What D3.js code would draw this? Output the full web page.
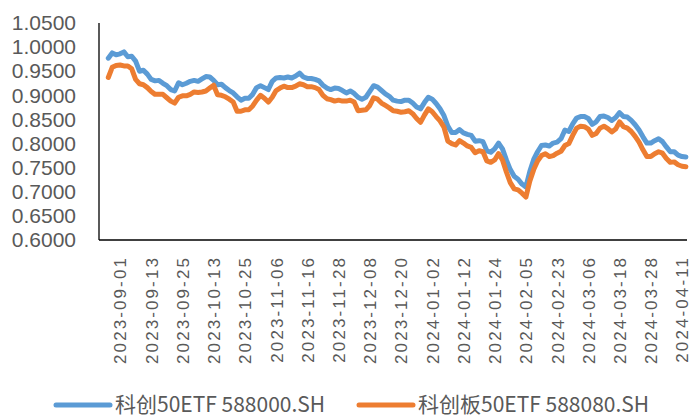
<!DOCTYPE html>
<html>
<head>
<meta charset="utf-8">
<script src="https://cdn.jsdelivr.net/npm/d3@7"></script>
<style>
  body { margin: 0; background: #fff; }
  text { font-family: "Liberation Sans", Arial, sans-serif; fill: #595959; }
</style>
</head>
<body>
<script>

// trading days shown on the category axis
var dates = [
  "2023-08-29","2023-08-30","2023-08-31",
  "2023-09-01","2023-09-04","2023-09-05","2023-09-06","2023-09-07","2023-09-08","2023-09-11","2023-09-12","2023-09-13","2023-09-14",
  "2023-09-15","2023-09-18","2023-09-19","2023-09-20","2023-09-21","2023-09-22","2023-09-25","2023-09-26","2023-09-27","2023-09-28",
  "2023-10-09","2023-10-10","2023-10-11","2023-10-12","2023-10-13","2023-10-16","2023-10-17","2023-10-18","2023-10-19","2023-10-20",
  "2023-10-23","2023-10-24","2023-10-25","2023-10-26","2023-10-27","2023-10-30","2023-10-31",
  "2023-11-01","2023-11-02","2023-11-03","2023-11-06","2023-11-07","2023-11-08","2023-11-09","2023-11-10","2023-11-13","2023-11-14",
  "2023-11-15","2023-11-16","2023-11-17","2023-11-20","2023-11-21","2023-11-22","2023-11-23","2023-11-24","2023-11-27","2023-11-28",
  "2023-11-29","2023-11-30",
  "2023-12-01","2023-12-04","2023-12-05","2023-12-06","2023-12-07","2023-12-08","2023-12-11","2023-12-12","2023-12-13","2023-12-14",
  "2023-12-15","2023-12-18","2023-12-19","2023-12-20","2023-12-21","2023-12-22","2023-12-25","2023-12-26","2023-12-27","2023-12-28",
  "2023-12-29",
  "2024-01-02","2024-01-03","2024-01-04","2024-01-05","2024-01-08","2024-01-09","2024-01-10","2024-01-11","2024-01-12","2024-01-15",
  "2024-01-16","2024-01-17","2024-01-18","2024-01-19","2024-01-22","2024-01-23","2024-01-24","2024-01-25","2024-01-26","2024-01-29",
  "2024-01-30","2024-01-31",
  "2024-02-01","2024-02-02","2024-02-05","2024-02-06","2024-02-07","2024-02-08","2024-02-19","2024-02-20","2024-02-21","2024-02-22",
  "2024-02-23","2024-02-26","2024-02-27","2024-02-28","2024-02-29",
  "2024-03-01","2024-03-04","2024-03-05","2024-03-06","2024-03-07","2024-03-08","2024-03-11","2024-03-12","2024-03-13","2024-03-14",
  "2024-03-15","2024-03-18","2024-03-19","2024-03-20","2024-03-21","2024-03-22","2024-03-25","2024-03-26","2024-03-27","2024-03-28",
  "2024-03-29",
  "2024-04-01","2024-04-02","2024-04-03","2024-04-08","2024-04-09","2024-04-10","2024-04-11","2024-04-12"
];

// 科创50ETF 588000.SH
var kc50 = [
  0.977,0.988,0.984,0.986,0.990,0.980,0.981,0.971,0.950,0.952,
  0.944,0.933,0.930,0.931,0.925,0.920,0.912,0.909,0.926,0.922,
  0.925,0.929,0.931,0.929,0.934,0.939,0.938,0.931,0.922,0.923,
  0.916,0.910,0.905,0.897,0.890,0.894,0.894,0.902,0.916,0.920,
  0.916,0.912,0.929,0.936,0.937,0.936,0.938,0.936,0.940,0.946,
  0.938,0.935,0.935,0.933,0.930,0.921,0.915,0.912,0.915,0.914,
  0.910,0.905,0.909,0.904,0.896,0.892,0.896,0.908,0.920,0.917,
  0.910,0.903,0.898,0.890,0.888,0.887,0.890,0.890,0.884,0.876,
  0.872,0.885,0.896,0.892,0.883,0.872,0.858,0.836,0.823,0.823,
  0.829,0.822,0.819,0.817,0.805,0.806,0.804,0.785,0.782,0.789,
  0.801,0.789,0.766,0.746,0.732,0.726,0.716,0.710,0.742,0.767,
  0.783,0.796,0.797,0.795,0.801,0.803,0.810,0.828,0.825,0.841,
  0.853,0.856,0.856,0.852,0.840,0.845,0.856,0.857,0.854,0.848,
  0.854,0.864,0.856,0.855,0.848,0.839,0.828,0.814,0.801,0.801,
  0.806,0.810,0.804,0.793,0.783,0.783,0.776,0.773,0.772
];

// 科创板50ETF 588080.SH
var kcb50 = [
  0.937,0.958,0.962,0.963,0.961,0.961,0.955,0.933,0.924,0.922,
  0.916,0.908,0.902,0.902,0.902,0.895,0.888,0.884,0.896,0.899,
  0.899,0.902,0.907,0.906,0.907,0.909,0.915,0.921,0.901,0.900,
  0.897,0.892,0.886,0.867,0.867,0.870,0.870,0.878,0.890,0.900,
  0.894,0.886,0.896,0.910,0.915,0.919,0.916,0.916,0.919,0.924,
  0.922,0.918,0.918,0.916,0.912,0.900,0.893,0.891,0.888,0.890,
  0.888,0.888,0.890,0.886,0.868,0.869,0.870,0.879,0.895,0.892,
  0.884,0.879,0.874,0.868,0.867,0.865,0.866,0.868,0.862,0.852,
  0.844,0.859,0.872,0.866,0.856,0.847,0.834,0.805,0.800,0.797,
  0.806,0.801,0.795,0.792,0.781,0.785,0.783,0.764,0.761,0.766,
  0.779,0.766,0.741,0.719,0.706,0.704,0.697,0.689,0.722,0.746,
  0.764,0.775,0.779,0.773,0.775,0.780,0.784,0.796,0.800,0.817,
  0.832,0.836,0.835,0.830,0.817,0.821,0.832,0.836,0.831,0.824,
  0.830,0.845,0.835,0.832,0.825,0.815,0.803,0.787,0.773,0.773,
  0.779,0.783,0.780,0.769,0.761,0.762,0.756,0.753,0.752
];

// labelled dates on the x axis
var xTicks = ["2023-09-01","2023-09-13","2023-09-25","2023-10-13","2023-10-25","2023-11-06","2023-11-16",
  "2023-11-28","2023-12-08","2023-12-20","2024-01-02","2024-01-12","2024-01-24","2024-02-05",
  "2024-02-23","2024-03-06","2024-03-18","2024-03-28","2024-04-11"];

var yTicks = [0.60,0.65,0.70,0.75,0.80,0.85,0.90,0.95,1.00,1.05];

var series = [
  {name: "科创50ETF 588000.SH", values: kc50, color: "#5B9BD5"},
  {name: "科创板50ETF 588080.SH", values: kcb50, color: "#ED7D31"}
];

//Width and height of SVG canvas
var w = 693;
var h = 419;

var svg = d3.select("body")
			.append("svg")
			.attr("width", w)
			.attr("height", h);

var x = d3.scalePoint()
			.domain(dates)
			.range([108.3, 685.9]);

var y = d3.scaleLinear()
			.domain([0.6, 1.05])
			.range([240, 23]);

// y axis labels
var yAxis = svg.append("g")
			.attr("transform", "translate(99,0)")
			.call(d3.axisLeft(y).tickValues(yTicks).tickSize(0).tickPadding(23).tickFormat(d3.format(".4f")));
yAxis.select(".domain").remove();
yAxis.selectAll("text")
			.style("font-size", "21px")
			.attr("fill", "#595959");

// x axis labels, rotated
var xAxis = svg.append("g")
			.attr("transform", "translate(0,240)")
			.call(d3.axisBottom(x).tickValues(xTicks).tickSize(0));
xAxis.select(".domain").remove();
xAxis.selectAll("text")
			.attr("fill", "#595959")
			.style("font-size", "17px")
			.style("letter-spacing", "2.1px")
			.attr("text-anchor", "end")
			.attr("transform", "rotate(-90)")
			.attr("x", -16)
			.attr("y", 0)
			.attr("dy", "0.35em");

// axis lines
svg.append("line")
			.attr("x1", 99).attr("x2", 99)
			.attr("y1", 23).attr("y2", 240)
			.attr("stroke", "#000")
			.attr("stroke-width", 1.3);
svg.append("line")
			.attr("x1", 99).attr("x2", 687)
			.attr("y1", 240).attr("y2", 240)
			.attr("stroke", "#000")
			.attr("stroke-width", 1.5);

// the two lines
var line = d3.line()
			.x(function(d, i) { return x(dates[i]); })
			.y(function(d) { return y(d); });

svg.selectAll(".series")
			.data(series)
			.enter()
			.append("path")
			.attr("class", "series")
			.attr("d", function(d) { return line(d.values); })
			.attr("fill", "none")
			.attr("stroke", function(d) { return d.color; })
			.attr("stroke-width", 5)
			.attr("stroke-linejoin", "round")
			.attr("stroke-linecap", "round");

// legend
var legendX = [56, 359];
var legend = svg.selectAll(".legend")
			.data(series)
			.enter()
			.append("g")
			.attr("class", "legend")
			.attr("transform", function(d, i) { return "translate(" + legendX[i] + ",405)"; });

legend.append("line")
			.attr("x1", 0).attr("x2", 54)
			.attr("stroke", function(d) { return d.color; })
			.attr("stroke-width", 5)
			.attr("stroke-linecap", "round");

legend.append("text")
			.attr("x", 59)
			.attr("dy", "0.35em")
			.style("font-family", "'Noto Sans CJK SC', 'Noto Sans', sans-serif")
			.style("font-size", "21px")
			.attr("fill", "#595959")
			.text(function(d) { return d.name; });

</script>
</body>
</html>
